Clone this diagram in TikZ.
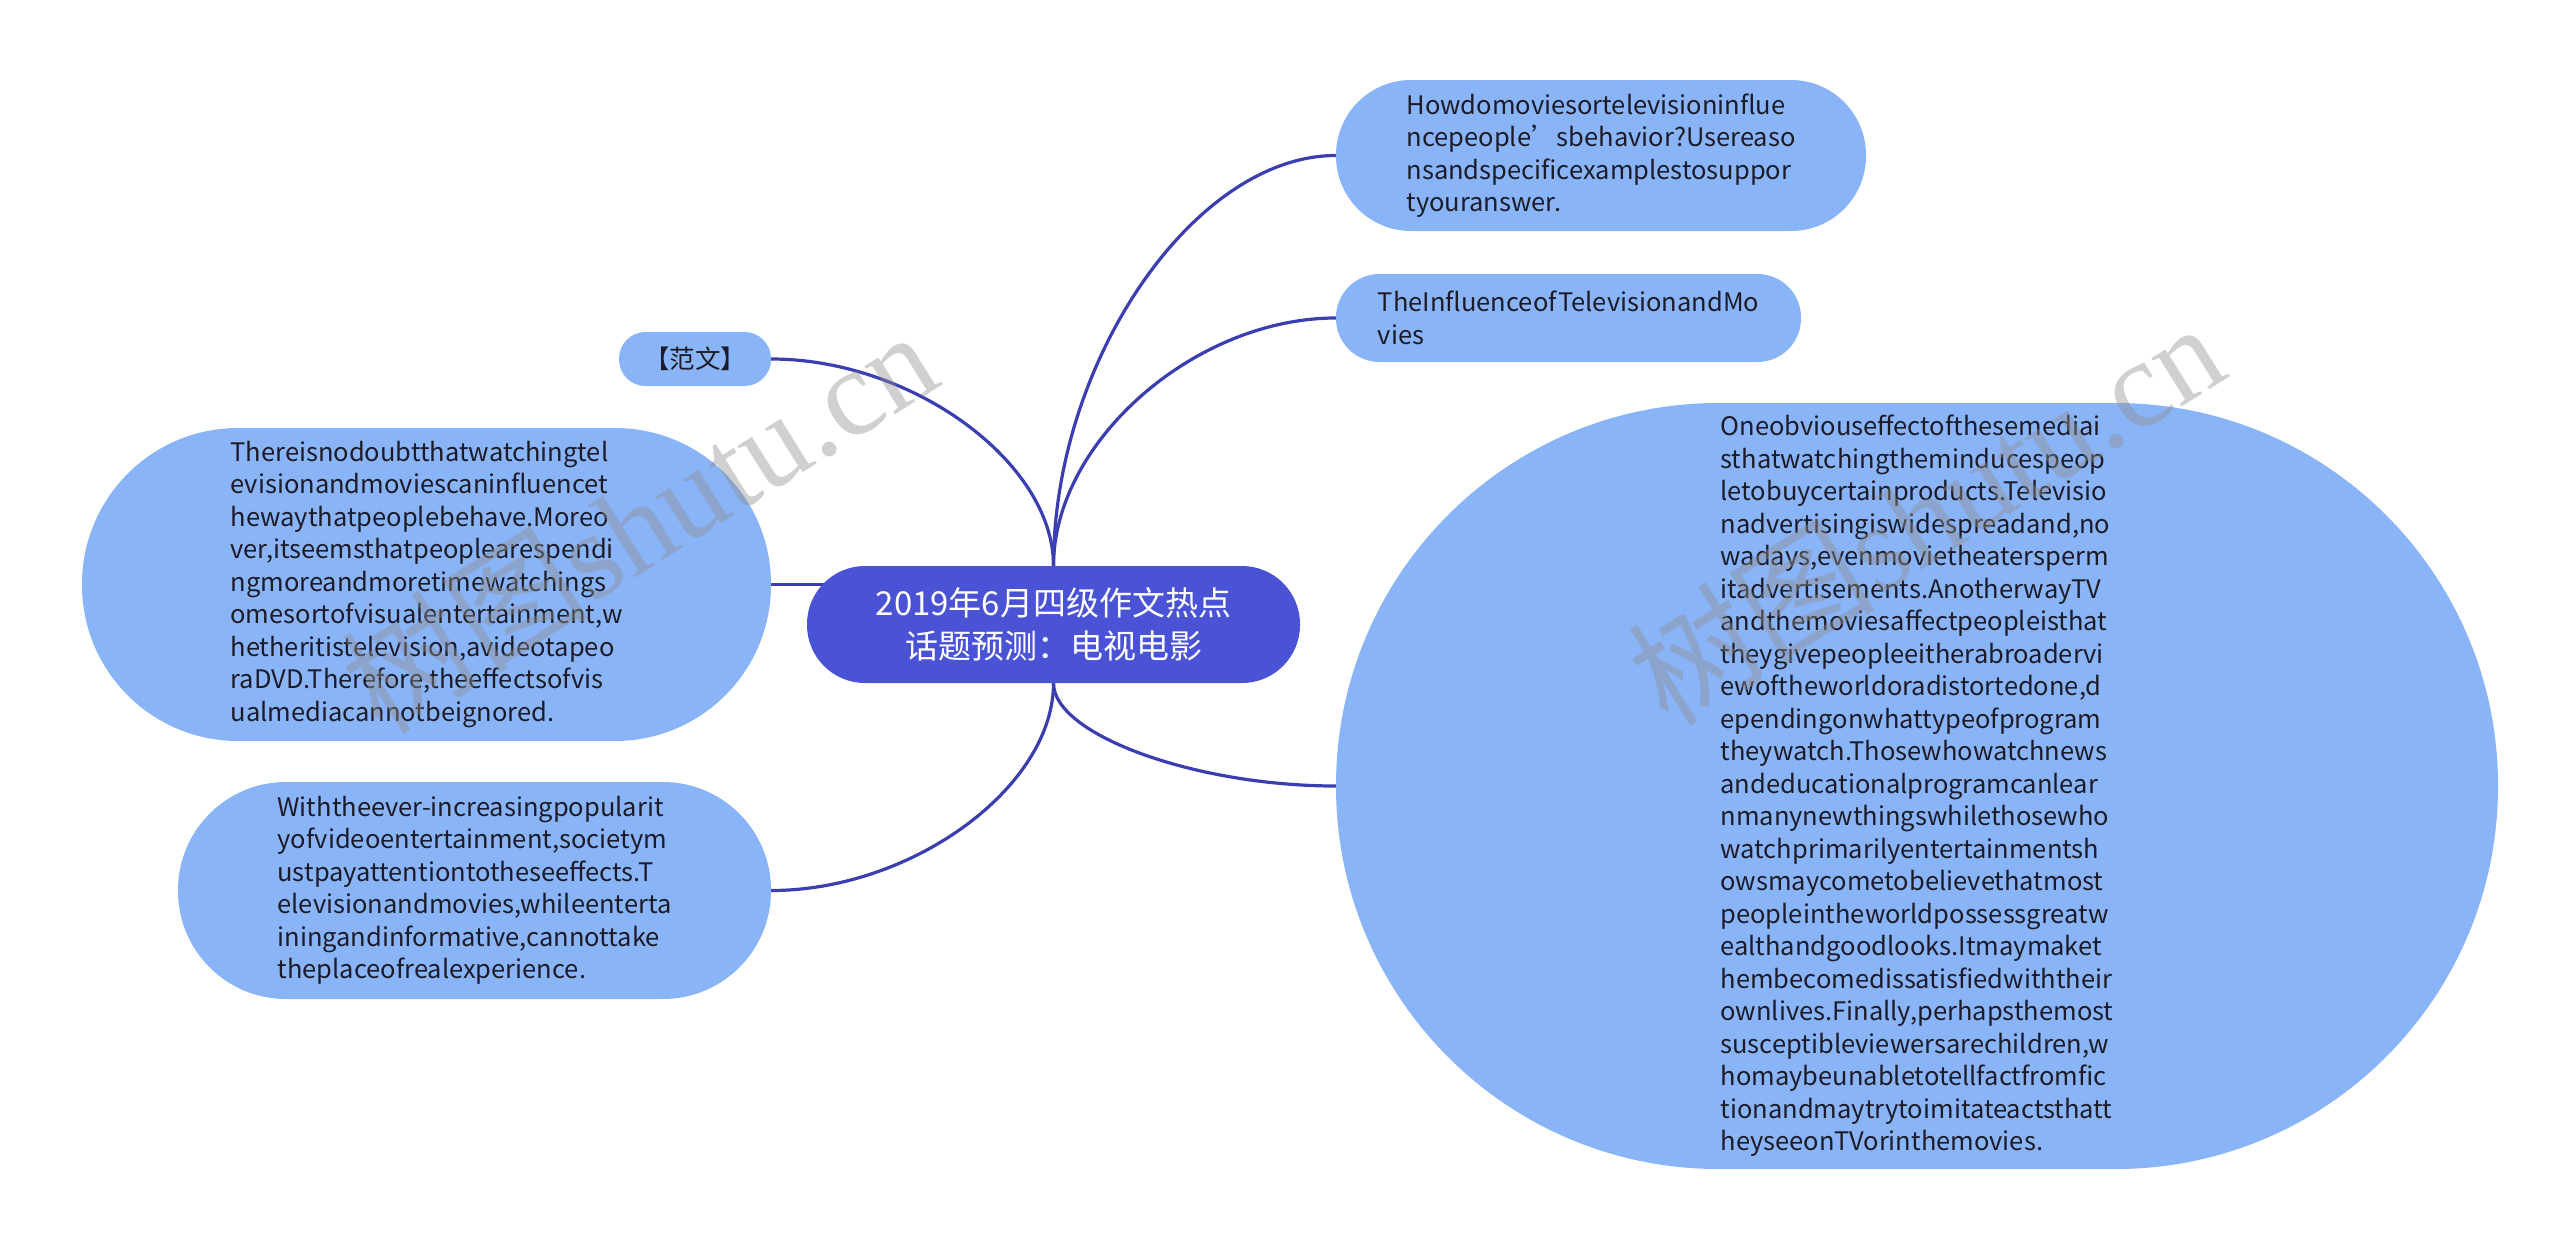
\documentclass[tikz,border=0pt]{standalone}
\usepackage{fontspec}
\setmainfont{Noto Sans CJK SC}
\newfontfamily\cjk{Noto Sans CJK SC}
\newfontfamily\wmserif{Liberation Serif}
\usetikzlibrary{calc,backgrounds}
\definecolor{nodefill}{HTML}{8AB4F8}
\definecolor{mainfill}{HTML}{4A52D6}
\definecolor{linkcol}{HTML}{3A3EB0}
\definecolor{txt}{HTML}{1C1C28}
\definecolor{wm}{HTML}{909090}
\begin{document}
\begin{tikzpicture}[x=1pt,y=-1pt,
  box/.style={rectangle, fill=nodefill, inner sep=0pt, align=left, text=txt,
    font=\fontsize{25.5}{32.5}\selectfont},
  mainbox/.style={rectangle, fill=mainfill, inner sep=0pt, align=center, text=white,
    font=\fontsize{33}{43}\selectfont},
  link/.style={draw=linkcol, line width=3.2pt},
  wmark/.style={text=wm, opacity=0.42, inner sep=0pt, rotate=32}]
\begin{pgfonlayer}{background}
\fill[white] (0,0) rectangle (2560,1251);
\end{pgfonlayer}
\useasboundingbox (0,0) rectangle (2560,1251);

% central topic
\node[mainbox, minimum width=493, minimum height=117, rounded corners=58] (c) at (1053.5,624.5)
  {2019年6月四级作文热点\\话题预测：电视电影};

% right side
\node[box, minimum width=530, minimum height=151, rounded corners=75] (n1) at (1601,155.5)
  {Howdomoviesortelevisioninflue\\ncepeople’sbehavior?Usereaso\\nsandspecificexamplestosuppor\\tyouranswer.};
\node[box, minimum width=465, minimum height=88, rounded corners=43.5] (n2) at (1568.5,318)
  {TheInfluenceofTelevisionandMo\\vies};
\node[box, minimum width=1162, minimum height=766, rounded corners=382.5] (n3) at (1917,786)
  {Oneobviouseffectofthesemediai\\sthatwatchingtheminducespeop\\letobuycertainproducts.Televisio\\nadvertisingiswidespreadand,no\\wadays,evenmovietheatersperm\\itadvertisements.AnotherwayTV\\andthemoviesaffectpeopleisthat\\theygivepeopleeitherabroadervi\\ewoftheworldoradistortedone,d\\ependingonwhattypeofprogram\\theywatch.Thosewhowatchnews\\andeducationalprogramcanlear\\nmanynewthingswhilethosewho\\watchprimarilyentertainmentsh\\owsmaycometobelievethatmost\\peopleintheworldpossessgreatw\\ealthandgoodlooks.Itmaymaket\\hembecomedissatisfiedwiththeir\\ownlives.Finally,perhapsthemost\\susceptibleviewersarechildren,w\\homaybeunabletotellfactfromfic\\tionandmaytrytoimitateactsthatt\\heyseeonTVorinthemovies.};

% left side
\node[box, minimum width=152, minimum height=54, rounded corners=26.5] (fw) at (695,359)
  {【范文】};
\node[box, minimum width=689, minimum height=313, rounded corners=156] (lb) at (426.5,584.5)
  {Thereisnodoubtthatwatchingtel\\evisionandmoviescaninfluencet\\hewaythatpeoplebehave.Moreo\\ver,itseemsthatpeoplearespendi\\ngmoreandmoretimewatchings\\omesortofvisualentertainment,w\\hetheritistelevision,avideotapeo\\raDVD.Therefore,theeffectsofvis\\ualmediacannotbeignored.};
\node[box, minimum width=593, minimum height=217, rounded corners=108] (bl) at (474.5,890.5)
  {Withtheever-increasingpopularit\\yofvideoentertainment,societym\\ustpayattentiontotheseeffects.T\\elevisionandmovies,whileenterta\\iningandinformative,cannottake\\theplaceofrealexperience.};

% connectors
\coordinate (m1) at ($(c.north)!0.5!(n1.west)$);
\coordinate (m2) at ($(c.north)!0.5!(n2.west)$);
\coordinate (m3) at ($(c.south)!0.5!(n3.west)$);
\coordinate (m4) at ($(c.north)!0.5!(fw.east)$);
\coordinate (m5) at ($(c.south)!0.5!(bl.east)$);
\begin{pgfonlayer}{background}
\draw[link] (c.north) .. controls (c.north |- m1) and (m1 |- n1.west) .. (n1.west);
\draw[link] (c.north) .. controls (c.north |- m2) and (m2 |- n2.west) .. (n2.west);
\draw[link] (c.south) .. controls (c.south |- m3) and (m3 |- n3.west) .. (n3.west);
\draw[link] (c.north) .. controls (c.north |- m4) and (m4 |- fw.east) .. (fw.east);
\draw[link] (c.south) .. controls (c.south |- m5) and (m5 |- bl.east) .. (bl.east);
\draw[link] (lb.east) -- (lb.east -| c.center);
\end{pgfonlayer}

% watermarks
\node[wmark] (wm1) at (638,520) {\fontsize{124}{124}\selectfont\cjk 树图\wmserif shutu.cn};
\node[wmark] (wm2) at (1925,512) {\fontsize{124}{124}\selectfont\cjk 树图\wmserif shutu.cn};
\end{tikzpicture}
\end{document}
